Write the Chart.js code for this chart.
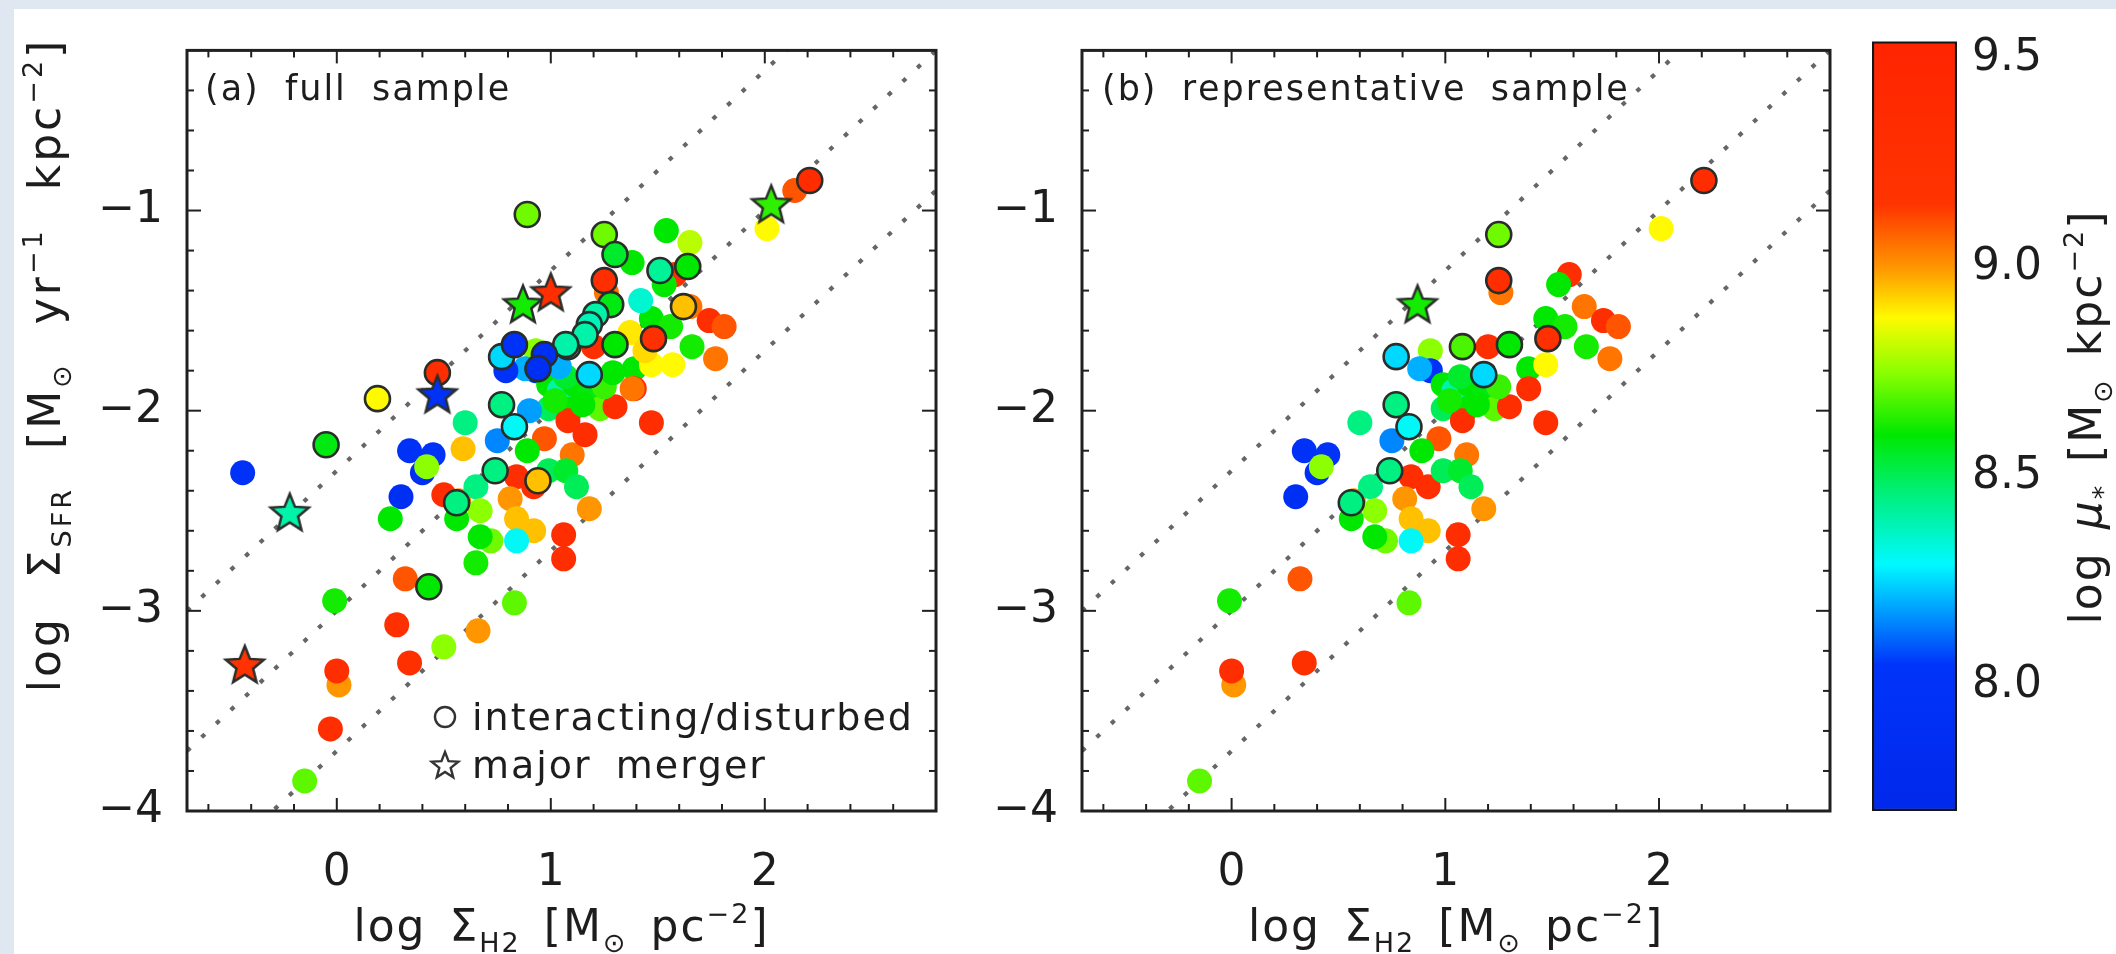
<!DOCTYPE html>
<html>
<head>
<meta charset="utf-8">
<title>Sigma_SFR vs Sigma_H2</title>
<script src="https://cdn.jsdelivr.net/npm/chart.js@4.4.1/dist/chart.umd.min.js"></script>
<style>
  html, body { margin: 0; padding: 0; }
  body { width: 2116px; height: 954px; background: #dfe7f1; position: relative; overflow: hidden; }
  #sheet { position: absolute; left: 14px; top: 9px; right: 0; bottom: 0; background: #fff; }
  canvas { position: absolute; top: 0; }
</style>
</head>
<body>
<div id="sheet"></div>
<canvas id="panelA" width="960" height="954" style="left:0px"></canvas>
<canvas id="panelB" width="890" height="954" style="left:960px"></canvas>
<canvas id="cbar" width="266" height="954" style="left:1850px"></canvas>
<script>
// ---------------- data ----------------
// representative sample: log Sigma_H2, log Sigma_SFR, log mu*, marker
// marker: c = plain, o = interacting/disturbed, s = major merger
const repLogH2 = [2.21, 2.01, 1.25, 1.26, 1.25, 1.58, 1.53, 0.87, 1.65, 1.74,
  1.81, 1.47, 1.56, 1.48, 1.30, 1.08, 1.20, 1.66, 1.77, 1.39,
  1.47, 0.93, 0.77, 0.93, 0.88, 1.18, 0.99, 1.04, 1.11, 1.18,
  1.23, 1.30, 1.39, 1.10, 0.99, 0.77, 0.83, 0.60, 1.08, 1.47,
  0.97, 0.75, 0.89, 1.10, 0.34, 0.45, 0.40, 0.42, 0.74, 0.84,
  0.92, 0.99, 1.07, 1.12, 0.30, 0.81, 0.57, 0.56, 0.65, 1.18,
  0.67, 0.56, 0.84, 0.92, 0.72, 0.67, 0.84, 1.06, 1.06, 0.32,
  -0.01, 0.83, 0.01, 0.00, 0.34, -0.15, 1.02, 1.15, 1.25, 1.07];
const repLogSFR = [-0.85, -1.09, -1.12, -1.41, -1.35, -1.32, -1.37, -1.47, -1.48, -1.55,
  -1.58, -1.54, -1.58, -1.64, -1.67, -1.68, -1.68, -1.68, -1.74, -1.79,
  -1.77, -1.70, -1.73, -1.80, -1.79, -1.82, -1.87, -1.90, -1.87, -1.93,
  -1.99, -1.98, -1.89, -1.99, -1.99, -1.97, -2.08, -2.06, -2.05, -2.06,
  -2.14, -2.15, -2.20, -2.22, -2.20, -2.22, -2.31, -2.28, -2.30, -2.33,
  -2.38, -2.30, -2.30, -2.38, -2.43, -2.44, -2.45, -2.46, -2.38, -2.49,
  -2.50, -2.54, -2.54, -2.60, -2.65, -2.63, -2.65, -2.62, -2.74, -2.84,
  -2.95, -2.96, -3.37, -3.30, -3.26, -3.85, -1.95, -1.97, -1.88, -1.83];
const repLogMu = [9.35, 8.88, 8.72, 9.05, 9.30, 9.30, 8.60, 8.62, 9.05, 9.30,
  9.10, 8.60, 8.62, 9.25, 8.60, 8.68, 9.30, 8.62, 9.05, 8.60,
  8.88, 8.75, 8.25, 7.95, 8.20, 8.25, 8.60, 8.40, 8.60, 8.58,
  8.70, 9.30, 9.30, 8.60, 8.50, 8.45, 8.30, 8.45, 9.30, 9.30,
  9.10, 8.15, 8.60, 9.05, 7.95, 8.00, 7.90, 8.75, 8.45, 9.30,
  9.30, 8.50, 8.55, 8.50, 7.90, 9.00, 9.00, 8.45, 8.45, 9.00,
  8.75, 8.60, 8.95, 8.95, 8.72, 8.60, 8.30, 9.30, 9.30, 9.10,
  8.62, 8.70, 9.00, 9.30, 9.25, 8.70, 8.62, 8.60, 8.66, 8.55];
const repType = ('ocococcscc' + 'cccooocccc' + 'ccoccocccc' + 'cccccooccc' +
  'ccccccccoc' + 'cccccccocc' + 'cccccccccc' + 'cccccccccc').split('');

// galaxies that are only in the full sample
const extraLogH2 = [2.14, 2.03, 0.89, 1.30, 1.38, 1.54, 1.65, 1.51, 1.64, 1.00,
  1.28, 1.42, 1.62, 1.21, 1.18, 1.16, 1.07, 0.83, 0.97, 0.79,
  0.94, 1.04, 0.47, 0.47, 0.19, -0.05, -0.44, -0.22, -0.43, -0.03,
  0.43, 0.28, 0.50, 0.66, 0.94, 0.50, 0.59, 0.90, 0.25, 1.37,
  1.44, 1.57, 1.29, 1.38, 1.16, 0.65];
const extraLogSFR = [-0.90, -0.97, -1.02, -1.22, -1.26, -1.10, -1.16, -1.30, -1.28, -1.41,
  -1.47, -1.45, -1.48, -1.52, -1.57, -1.62, -1.67, -1.67, -1.72, -1.80,
  -1.79, -1.78, -1.81, -1.92, -1.94, -2.17, -2.31, -2.51, -3.27, -3.59,
  -2.88, -3.07, -3.18, -3.10, -2.35, -2.42, -2.19, -2.00, -2.54, -1.61,
  -1.70, -1.77, -1.81, -1.89, -2.12, -2.76];
const extraLogMu = [9.10, 8.65, 8.72, 8.55, 8.60, 8.60, 8.80, 8.42, 8.60, 9.30,
  8.58, 8.35, 8.95, 8.40, 8.38, 8.40, 8.40, 7.95, 7.90, 7.95,
  7.90, 8.20, 9.30, 7.95, 8.88, 8.58, 7.95, 8.40, 9.20, 9.30,
  8.60, 9.25, 8.75, 9.00, 8.95, 9.30, 8.95, 8.18, 8.60, 8.90,
  8.92, 8.88, 8.60, 9.05, 9.30, 8.62];
const extraType = ('csoocccoos' + 'ocoooooooc' + 'ocosoocssc' + 'occcoccccc' + 'cccccc').split('');

// axes
const xMin = -0.7, xMax = 2.8;
const yMin = -4.0, yMax = -0.2;
const xTickValues = [0, 1, 2];
const yTickValues = [-4, -3, -2, -1];
// constant depletion time lines: log SFR = log H2 + offset
const tdepOffsets = [-2.3, -3.0, -3.7];

// colour bar
const cbarMin = 7.7, cbarMax = 9.54;
const cbarTickValues = [8.0, 8.5, 9.0, 9.5];
const cmapValues = [7.70, 8.05, 8.17, 8.29, 8.45, 8.60, 8.75, 8.88, 9.00, 9.15, 9.54];
const cmapColors = [[0, 40, 235], [0, 52, 250], [0, 150, 255], [0, 250, 255], [0, 240, 130],
  [0, 232, 0], [140, 255, 0], [255, 250, 0], [255, 150, 0], [255, 52, 0], [255, 36, 0]];

// ---------------- helpers ----------------
const FONT = '"DejaVu Sans", "Liberation Sans", sans-serif';
const INK = '#1d1d1d';
const EDGE = '#2a2e2a';

function muColor(v) {
  if (v <= cmapValues[0]) return 'rgb(' + cmapColors[0].join(',') + ')';
  for (let i = 1; i < cmapValues.length; i++) {
    if (v <= cmapValues[i]) {
      const t = (v - cmapValues[i - 1]) / (cmapValues[i] - cmapValues[i - 1]);
      const a = cmapColors[i - 1], b = cmapColors[i];
      return 'rgb(' + a.map((c, k) => Math.round(c + (b[k] - c) * t)).join(',') + ')';
    }
  }
  return 'rgb(' + cmapColors[cmapColors.length - 1].join(',') + ')';
}

function starPath(g, cx, cy, rOut, rIn) {
  g.beginPath();
  for (let k = 0; k < 10; k++) {
    const r = k % 2 === 0 ? rOut : rIn;
    const a = -Math.PI / 2 + k * Math.PI / 5;
    g.lineTo(cx + r * Math.cos(a), cy + r * Math.sin(a));
  }
  g.closePath();
}

const starCache = {};
function starImage(color) {
  if (starCache[color]) return starCache[color];
  const c = document.createElement('canvas');
  c.width = 46; c.height = 46;
  const g = c.getContext('2d');
  starPath(g, 23, 24, 20, 8.8);
  g.fillStyle = color;
  g.fill();
  g.lineWidth = 2.5;
  g.strokeStyle = EDGE;
  g.stroke();
  starCache[color] = c;
  return c;
}

function pick(xs, ys, mus, types, kind) {
  const out = [];
  xs.forEach((x, i) => { if (types[i] === kind) out.push({ x: x, y: ys[i], mu: mus[i] }); });
  return out;
}

function panelDatasets(xs, ys, mus, types) {
  const fill = ctx => ctx.raw ? muColor(ctx.raw.mu) : '#888';
  const sets = [
    {
      label: 'major merger', order: 0,
      data: pick(xs, ys, mus, types, 's'),
      pointStyle: ctx => ctx.raw ? starImage(muColor(ctx.raw.mu)) : 'star'
    },
    {
      label: 'interacting/disturbed', order: 1,
      data: pick(xs, ys, mus, types, 'o'),
      pointRadius: 12.5, pointBackgroundColor: fill,
      pointBorderColor: EDGE, pointBorderWidth: 2.6
    },
    {
      label: 'other', order: 2,
      data: pick(xs, ys, mus, types, 'c'),
      pointRadius: 12.5, pointBackgroundColor: fill, pointBorderWidth: 0
    }
  ];
  tdepOffsets.forEach(c => {
    sets.push({
      label: 'tdep', order: 3, showLine: true, pointRadius: 0,
      data: [{ x: xMin, y: xMin + c }, { x: xMax, y: xMax + c }],
      borderColor: '#666666', borderWidth: 4.2, borderDash: [4.5, 15.5], borderCapStyle: 'butt'
    });
  });
  return sets;
}

// text with sub/superscripts, drawn glyph by glyph so spacing can be set
function drawRich(ctx, parts, x, y, o) {
  const small = Math.round(o.size * 0.62);
  const fontOf = st => (st === 'it' ? 'italic ' : '') +
    (st === 'sub' || st === 'sup' ? small : o.size) + 'px ' + FONT;
  const adv = (ch, st) => {
    ctx.font = fontOf(st);
    return ctx.measureText(ch).width + (ch === ' ' ? o.space : o.ls);
  };
  let width = 0;
  parts.forEach(([t, st]) => { for (const ch of t) width += adv(ch, st); });
  ctx.save();
  ctx.translate(x, y);
  if (o.rotate) ctx.rotate(o.rotate);
  ctx.fillStyle = INK;
  ctx.textBaseline = 'alphabetic';
  ctx.textAlign = 'left';
  let cx = o.align === 'center' ? -width / 2 : 0;
  parts.forEach(([t, st]) => {
    const dy = st === 'sub' ? o.size * 0.24 : st === 'sup' ? -o.size * 0.42 : 0;
    for (const ch of t) {
      ctx.font = fontOf(st);
      ctx.fillText(ch, cx, dy);
      cx += adv(ch, st);
    }
  });
  ctx.restore();
}

const xTitle = [['log ', ''], ['\u03a3', ''], ['H2', 'sub'], [' [M', ''], ['\u2299', 'sub'],
  [' pc', ''], ['\u22122', 'sup'], [']', '']];
const yTitle = [['log ', ''], ['\u03a3', ''], ['SFR', 'sub'], [' [M', ''], ['\u2299', 'sub'],
  [' yr', ''], ['\u22121', 'sup'], [' kpc', ''], ['\u22122', 'sup'], [']', '']];
const cTitle = [['log ', ''], ['\u03bc', 'it'], ['*', 'sub'], [' [M', ''], ['\u2299', 'sub'],
  [' kpc', ''], ['\u22122', 'sup'], [']', '']];

const minus = v => (v < 0 ? '\u2212' + Math.abs(v) : String(v));

// box with inward ticks on all four sides
const framePlugin = {
  id: 'frame',
  afterDraw(chart) {
    const { ctx, chartArea: a, scales } = chart;
    const xs = scales.x, ys = scales.y;
    ctx.save();
    ctx.strokeStyle = '#202020';
    ctx.lineWidth = 2;
    const tick = (px, py, dx, dy) => { ctx.beginPath(); ctx.moveTo(px, py); ctx.lineTo(px + dx, py + dy); ctx.stroke(); };
    for (let i = -6; i <= 27; i++) {
      const v = i / 10;
      if (i % 2 !== 0 || v <= xMin || v >= xMax) continue;
      const len = i % 10 === 0 ? 13 : 7;
      const px = xs.getPixelForValue(v);
      tick(px, a.bottom, 0, -len);
      tick(px, a.top, 0, len);
    }
    for (let i = -38; i <= -4; i += 2) {
      const v = i / 10;
      const len = i % 10 === 0 ? 14 : 7;
      const py = ys.getPixelForValue(v);
      tick(a.left, py, len, 0);
      tick(a.right, py, -len, 0);
    }
    ctx.lineWidth = 3;
    ctx.strokeRect(a.left, a.top, a.right - a.left, a.bottom - a.top);
    ctx.restore();
  }
};

function panelConfig(xs, ys, mus, types, layout, yWidth, decorate) {
  return {
    type: 'scatter',
    data: { datasets: panelDatasets(xs, ys, mus, types) },
    options: {
      responsive: false,
      animation: false,
      layout: { padding: layout },
      plugins: { legend: { display: false }, tooltip: { enabled: false } },
      scales: {
        x: {
          type: 'linear', min: xMin, max: xMax,
          grid: { display: false, drawTicks: false }, border: { display: false },
          afterBuildTicks: s => { s.ticks = xTickValues.map(v => ({ value: v })); },
          afterFit: s => { s.height = 143; },
          ticks: { font: { family: FONT, size: 44 }, color: INK, padding: 36, maxRotation: 0, autoSkip: false, callback: minus }
        },
        y: {
          type: 'linear', min: yMin, max: yMax,
          grid: { display: false, drawTicks: false }, border: { display: false },
          afterBuildTicks: s => { s.ticks = yTickValues.map(v => ({ value: v })); },
          afterFit: s => { s.width = yWidth; },
          ticks: { font: { family: FONT, size: 44 }, color: INK, padding: 24, autoSkip: false, callback: minus }
        }
      }
    },
    plugins: [framePlugin, { id: 'labels', afterDraw: decorate }]
  };
}

// ---------------- panel (a): full sample ----------------
const fullLogH2 = repLogH2.concat(extraLogH2);
const fullLogSFR = repLogSFR.concat(extraLogSFR);
const fullLogMu = repLogMu.concat(extraLogMu);
const fullType = repType.concat(extraType);

new Chart(document.getElementById('panelA'), panelConfig(
  fullLogH2, fullLogSFR, fullLogMu, fullType,
  { left: 0, top: 16, right: 24, bottom: 0 }, 187,
  chart => {
    const { ctx, chartArea: a } = chart;
    drawRich(ctx, [['(a) full sample', '']], a.left + 18, a.top + 50, { size: 35, ls: 2, space: 14 });
    drawRich(ctx, xTitle, (a.left + a.right) / 2, 941, { size: 44, ls: 2, space: 9, align: 'center' });
    drawRich(ctx, yTitle, 60, 365, { size: 44, ls: 3, space: 24, align: 'center', rotate: -Math.PI / 2 });
    // legend for the marker shapes
    const lx = a.left + 258;
    ctx.save();
    ctx.strokeStyle = '#333';
    ctx.lineWidth = 2.4;
    ctx.beginPath();
    ctx.arc(lx, a.bottom - 94, 10, 0, Math.PI * 2);
    ctx.stroke();
    starPath(ctx, lx, a.bottom - 45, 14, 6);
    ctx.stroke();
    ctx.restore();
    drawRich(ctx, [['interacting/disturbed', '']], lx + 27, a.bottom - 81, { size: 38, ls: 2, space: 12 });
    drawRich(ctx, [['major merger', '']], lx + 27, a.bottom - 33, { size: 38, ls: 2, space: 12 });
  }
));

// ---------------- panel (b): representative sample ----------------
new Chart(document.getElementById('panelB'), panelConfig(
  repLogH2, repLogSFR, repLogMu, repType,
  { left: 0, top: 16, right: 20, bottom: 0 }, 122,
  chart => {
    const { ctx, chartArea: a } = chart;
    drawRich(ctx, [['(b) representative sample', '']], a.left + 20, a.top + 50, { size: 35, ls: 2, space: 13 });
    drawRich(ctx, xTitle, (a.left + a.right) / 2, 941, { size: 44, ls: 2, space: 9, align: 'center' });
  }
));

// ---------------- colour bar ----------------
new Chart(document.getElementById('cbar'), {
  type: 'bar',
  data: {
    labels: ['mu'],
    datasets: [{
      data: [[cbarMin, cbarMax]],
      categoryPercentage: 1, barPercentage: 1,
      borderColor: '#151515', borderWidth: 2.5, borderSkipped: false,
      backgroundColor: ctx => {
        const chart = ctx.chart;
        if (!chart.chartArea) return '#888';
        const ys = chart.scales.y;
        const g = chart.ctx.createLinearGradient(0, ys.getPixelForValue(cbarMin), 0, ys.getPixelForValue(cbarMax));
        cmapValues.forEach((v, i) => {
          g.addColorStop((v - cbarMin) / (cbarMax - cbarMin), 'rgb(' + cmapColors[i].join(',') + ')');
        });
        return g;
      }
    }]
  },
  options: {
    responsive: false,
    animation: false,
    layout: { padding: { left: 22, top: 16, right: 0, bottom: 143 } },
    plugins: { legend: { display: false }, tooltip: { enabled: false } },
    scales: {
      x: { display: false },
      y: {
        position: 'right', min: cbarMin, max: cbarMax,
        grid: { display: false, drawTicks: false }, border: { display: false },
        afterBuildTicks: s => { s.ticks = cbarTickValues.map(v => ({ value: v })); },
        afterFit: s => { s.width = 159; },
        ticks: { font: { family: FONT, size: 44 }, color: INK, padding: 15, autoSkip: false, callback: v => v.toFixed(1) }
      }
    }
  },
  plugins: [{
    id: 'cbarTitle',
    afterDraw(chart) {
      drawRich(chart.ctx, cTitle, 2101 - 1850, 417, { size: 44, ls: 2, space: 8, align: 'center', rotate: -Math.PI / 2 });
    }
  }]
});
</script>
</body>
</html>
